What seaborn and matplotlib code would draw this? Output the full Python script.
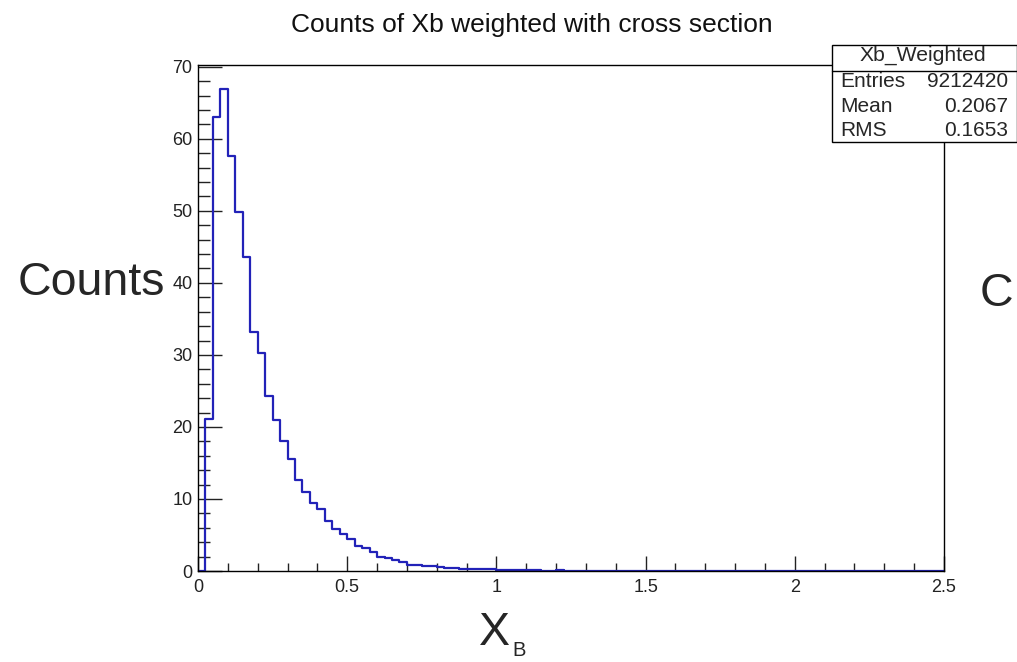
import numpy as np
import pandas as pd
import matplotlib
matplotlib.use("Agg")
import matplotlib.pyplot as plt
from matplotlib.patches import Rectangle
from matplotlib.lines import Line2D
from matplotlib.ticker import MultipleLocator
import seaborn as sns

# Histogram of X_B: 100 bins of width 0.025 on [0, 2.5]
bin_width = 0.025
x_range = (0.0, 2.5)
counts = [
    0.0, 21.1, 63.0, 66.9, 57.6, 49.8, 43.6, 33.2, 30.2, 24.3,
    20.9, 18.0, 15.6, 12.6, 11.0, 9.5, 8.6, 6.9, 5.9, 5.1,
    4.5, 3.5, 3.2, 2.7, 2.0, 1.8, 1.5, 1.2, 0.9, 0.9,
    0.75, 0.75, 0.6, 0.45, 0.45, 0.28, 0.28, 0.28, 0.28, 0.28,
    0.12, 0.12, 0.12, 0.12, 0.12, 0.12, 0.0, 0.0, 0.1, 0.0,
] + [0.0] * 50
x_ticks = [0, 0.5, 1, 1.5, 2, 2.5]
x_tick_labels = ["0", "0.5", "1", "1.5", "2", "2.5"]
y_ticks = [0, 10, 20, 30, 40, 50, 60, 70]

stats_title = "Xb_Weighted"
stats_rows = [("Entries", "9212420"), ("Mean", "0.2067"), ("RMS", "0.1653")]

sns.set_style("white")
plt.rcParams["font.family"] = ["Liberation Sans", "DejaVu Sans"]

W, H = 1017, 662
fig = plt.figure(figsize=(W / 100, H / 100), dpi=100)


def fx(px):
    return px / W


def fy(py):
    return 1 - py / H


ax = fig.add_axes([fx(198), fy(571), fx(944) - fx(198), fy(65) - fy(571)])

n_bins = len(counts)
hist_df = pd.DataFrame({
    "xb": x_range[0] + bin_width * (np.arange(n_bins) + 0.5),
    "w": counts,
})
sns.histplot(data=hist_df, x="xb", weights="w", binwidth=bin_width,
             binrange=x_range, element="step", fill=False,
             color="#2222b8", linewidth=1.6, ax=ax)

ax.set_xlim(*x_range)
ax.set_ylim(0, 70.25)
ax.set_xlabel("")
ax.set_ylabel("")
ax.set_xticks(x_ticks)
ax.set_xticklabels(x_tick_labels)
ax.set_yticks(y_ticks)
ax.xaxis.set_minor_locator(MultipleLocator(0.1))
ax.yaxis.set_minor_locator(MultipleLocator(2))

for side in ["left", "bottom", "right", "top"]:
    ax.spines[side].set_visible(True)
    ax.spines[side].set_color("black")
    ax.spines[side].set_linewidth(1.0)

ax.tick_params(axis="both", which="both", direction="in", color="#222222",
               width=1.0, labelsize=13, labelcolor="#222222",
               bottom=True, left=True, top=False, right=False)
ax.tick_params(axis="y", which="major", length=17, pad=4)
ax.tick_params(axis="y", which="minor", length=8.5)
ax.tick_params(axis="x", which="major", length=11, pad=5.5)
ax.tick_params(axis="x", which="minor", length=6)

# Title
fig.text(fx(532), fy(32), "Counts of Xb weighted with cross section",
         ha="center", va="baseline", fontsize=19, color="#111111")

# Axis titles
fig.text(fx(18), fy(295), "Counts", ha="left", va="baseline", fontsize=33.5)
fig.text(fx(980), fy(306), "C", ha="left", va="baseline", fontsize=33.5)
fig.text(fx(479), fy(645), "X", ha="left", va="baseline", fontsize=33.5)
fig.text(fx(512), fy(656.5), "B", ha="left", va="baseline", fontsize=14.5)

# Statistics box
box_l, box_r, box_t, box_b, sep = 831.5, 1016.5, 45, 142, 71
fig.add_artist(Rectangle((fx(box_l), fy(box_b)), fx(box_r) - fx(box_l),
                         fy(box_t) - fy(box_b), transform=fig.transFigure,
                         facecolor="white", edgecolor="black", linewidth=1.0,
                         zorder=5))
fig.add_artist(Line2D([fx(box_l), fx(box_r)], [fy(sep), fy(sep)],
                      transform=fig.transFigure, color="black", linewidth=1.0,
                      zorder=6))
fig.text(fx(923), fy(61), stats_title, ha="center", va="baseline",
         fontsize=15.2, zorder=7)
for (name, val), base in zip(stats_rows, [87, 111.5, 136]):
    fig.text(fx(840), fy(base), name, ha="left", va="baseline",
             fontsize=15, zorder=7)
    fig.text(fx(1008), fy(base), val, ha="right", va="baseline",
             fontsize=15, zorder=7)

fig.savefig("out.png", dpi=100)
